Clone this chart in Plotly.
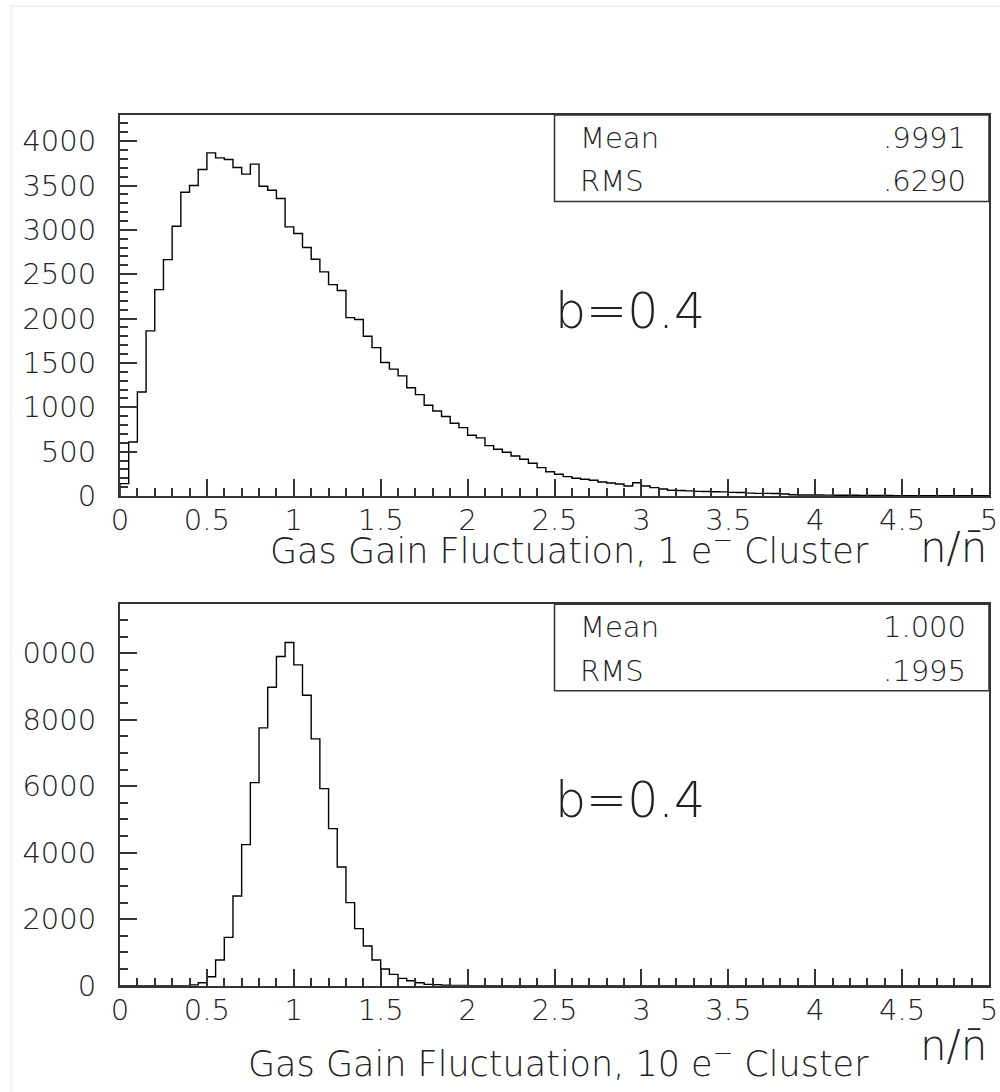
import numpy as np
import plotly.graph_objects as go

# ---------------- data ----------------
x_min, x_max, n_bins = 0.0, 5.0, 100

counts_1e = [
    139, 609, 1173, 1861, 2327, 2665, 3041, 3425, 3500, 3680,
    3868, 3812, 3793, 3703, 3628, 3741, 3492, 3447, 3353, 3034,
    2959, 2801, 2669, 2526, 2383, 2316, 2011, 1989, 1801, 1673,
    1505, 1430, 1354, 1220, 1143, 1023, 959, 897, 820, 771,
    685, 655, 568, 527, 493, 451, 414, 369, 320, 274,
    245, 218, 200, 188, 177, 158, 147, 135, 113, 150,
    113, 94, 79, 65, 62, 58, 52, 50, 48, 46,
    41, 40, 32, 30, 30, 28, 23, 14, 12, 12,
    11, 10, 9, 8, 8, 7, 6, 6, 5, 4,
    4, 4, 3, 3, 3, 2, 2, 3, 2, 2,
]

counts_10e = [
    0, 0, 0, 0, 0, 0, 0, 0, 20, 90,
    271, 772, 1454, 2698, 4243, 6108, 7753, 8977, 9900, 10321,
    9649, 8736, 7422, 5928, 4724, 3571, 2497, 1715, 1194, 772,
    501, 341, 221, 150, 90, 40, 30, 15, 8, 5,
    3, 2, 1, 1, 0, 0, 0, 0, 0, 0,
    0, 0, 0, 0, 0, 0, 0, 0, 0, 0,
    0, 0, 0, 0, 0, 0, 0, 0, 0, 0,
    0, 0, 0, 0, 0, 0, 0, 0, 0, 0,
    0, 0, 0, 0, 0, 0, 0, 0, 0, 0,
    0, 0, 0, 0, 0, 0, 0, 0, 0, 0,
]

x_tickvals = [0, 0.5, 1, 1.5, 2, 2.5, 3, 3.5, 4, 4.5, 5]
x_ticktext = ["0", "0.5", "1", "1.5", "2", "2.5", "3", "3.5", "4", "4.5", "5"]

y_top_tickvals = [0, 500, 1000, 1500, 2000, 2500, 3000, 3500, 4000]
y_top_ticktext = ["0", "500", "1000", "1500", "2000", "2500", "3000", "3500", "4000"]
y_top_max = 4295

y_bot_tickvals = [0, 2000, 4000, 6000, 8000, 10000]
y_bot_ticktext = ["0", "2000", "4000", "6000", "8000", "0000"]
y_bot_max = 11470

stats_top = [("Mean", ".9991"), ("RMS", ".6290")]
stats_bot = [("Mean", "1.000"), ("RMS", ".1995")]

title_top = "Gas Gain Fluctuation, 1 e<sup>\u2212</sup> Cluster"
title_bot = "Gas Gain Fluctuation, 10 e<sup>\u2212</sup> Cluster"
x_unit = "n/n\u0304"
param_text = "b=0.4"

# ---------------- layout helpers ----------------
W, H = 1000, 1092
FONT = "DejaVu Sans"
FRAME = "#333333"


def py(pix):
    return 1 - pix / H


edges = np.linspace(x_min, x_max, n_bins + 1)

fig = go.Figure()

for counts, ax in [(counts_1e, ""), (counts_10e, "2")]:
    xs = np.concatenate([[x_min], edges, [x_max]])
    ys = np.concatenate([[0], counts, [counts[-1]], [0]])
    fig.add_trace(go.Scatter(
        x=xs, y=ys, mode="lines", line=dict(shape="hv", color="black", width=1.4),
        xaxis="x" + ax, yaxis="y" + ax, showlegend=False, hoverinfo="skip",
    ))

tickfont = dict(family=FONT, size=29, color="#222", weight=200)

xcommon = dict(
    range=[x_min, x_max], domain=[0.120, 0.989],
    tickmode="array", tickvals=x_tickvals, ticktext=x_ticktext,
    ticks="inside", ticklen=17, tickwidth=1.5, tickcolor=FRAME,
    minor=dict(dtick=0.1, ticks="inside", ticklen=8, tickwidth=1.5, tickcolor=FRAME),
    showline=True, linecolor=FRAME, linewidth=2, mirror=True,
    showgrid=False, zeroline=False, tickfont=tickfont, automargin=False,
    ticklabelstandoff=-3,
)
ycommon = dict(
    ticks="inside", ticklen=17, tickwidth=1.5, tickcolor=FRAME,
    showline=True, linecolor=FRAME, linewidth=2, mirror=True,
    showgrid=False, zeroline=False, tickfont=tickfont, automargin=False,
    ticklabelstandoff=16, tickmode="array",
)

top_dom = [py(496), py(115)]
bot_dom = [py(985.7), py(604.3)]

fig.update_layout(
    width=W, height=H, margin=dict(l=0, r=0, t=0, b=0),
    paper_bgcolor="white", plot_bgcolor="white",
    template="none",
    xaxis=dict(**xcommon, anchor="y"),
    xaxis2=dict(**xcommon, anchor="y2"),
    yaxis=dict(**ycommon, domain=top_dom, range=[0, y_top_max], anchor="x",
               tickvals=y_top_tickvals, ticktext=y_top_ticktext,
               minor=dict(dtick=100, ticks="inside", ticklen=8, tickwidth=1.5, tickcolor=FRAME)),
    yaxis2=dict(**ycommon, domain=bot_dom, range=[0, y_bot_max], anchor="x2",
                tickvals=y_bot_tickvals, ticktext=y_bot_ticktext,
                minor=dict(dtick=500, ticks="inside", ticklen=8, tickwidth=1.5, tickcolor=FRAME)),
)

shapes = []
annos = []

# faint image border
shapes.append(dict(type="line", xref="paper", yref="paper", x0=11 / W, x1=1, y0=py(6), y1=py(6),
                   line=dict(color="#e6e6e6", width=1)))
shapes.append(dict(type="line", xref="paper", yref="paper", x0=11 / W, x1=11 / W, y0=0, y1=py(6),
                   line=dict(color="#e6e6e6", width=1)))

txtfont = dict(family=FONT, color="#222", weight=200)

panels = [
    # axis, stats, title, frame top px, title centre px, unit centre px
    ("", stats_top, title_top, 115, 548, 547),
    ("2", stats_bot, title_bot, 604.3, 1061, 1045),
]

for ax, stats, title, ytop, ytitle, yunit in panels:
    xr = "x" + ax
    # stats box
    box_bottom = ytop + 86.5
    shapes.append(dict(type="rect", xref=xr, yref="paper", x0=2.5, x1=5.0,
                       y0=py(box_bottom), y1=py(ytop),
                       line=dict(color=FRAME, width=1.5), fillcolor="rgba(0,0,0,0)"))
    for i, (lab, val) in enumerate(stats):
        yc = ytop + 23 + i * 43.5
        annos.append(dict(xref=xr, yref="paper", x=2.635, y=py(yc), text=lab,
                          xanchor="left", yanchor="middle", showarrow=False,
                          font=dict(**txtfont, size=29)))
        annos.append(dict(xref=xr, yref="paper", x=4.88, y=py(yc), text=val,
                          xanchor="right", yanchor="middle", showarrow=False,
                          font=dict(**txtfont, size=29)))
    # parameter text
    annos.append(dict(xref=xr, yref="paper", x=2.49, y=py(ytop + 196), text=param_text,
                      xanchor="left", yanchor="middle", showarrow=False,
                      font=dict(**txtfont, size=49)))
    # x title
    annos.append(dict(xref="paper", yref="paper", x=0.871, y=py(ytitle), text=title,
                      xanchor="right", yanchor="middle", showarrow=False,
                      font=dict(**txtfont, size=35)))
    annos.append(dict(xref="paper", yref="paper", x=0.989, y=py(yunit), text=x_unit,
                      xanchor="right", yanchor="middle", showarrow=False,
                      font=dict(**txtfont, size=42)))

fig.update_layout(shapes=shapes, annotations=annos)

fig.write_html("out.html")
